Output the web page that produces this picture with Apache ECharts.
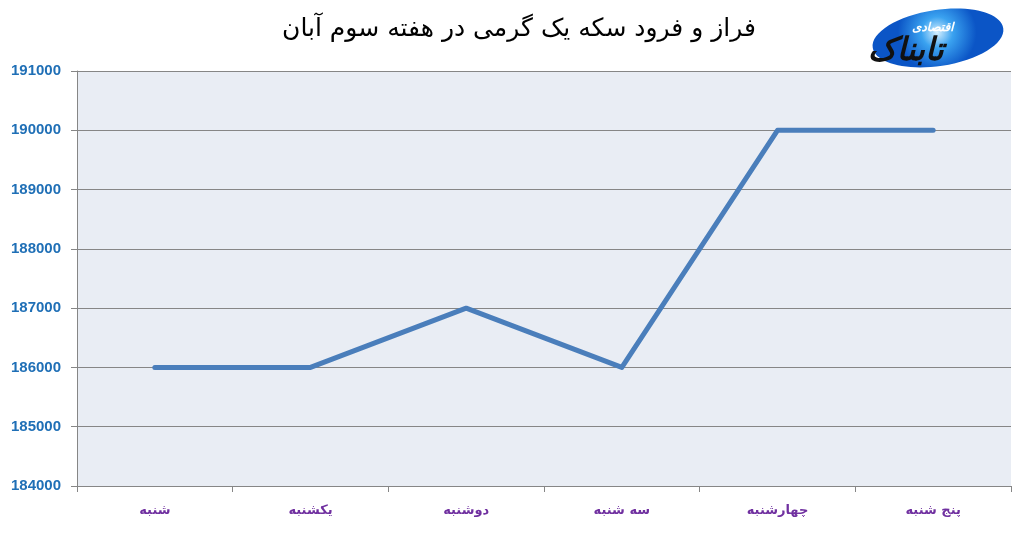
<!DOCTYPE html>
<html><head><meta charset="utf-8">
<script src="https://cdn.jsdelivr.net/npm/echarts@6/dist/echarts.min.js"></script>
<style>html,body{margin:0;padding:0;background:#fff}#c{width:1019px;height:533px}</style>
</head><body><div id="c"></div>
<script>
const titleText = 'فراز و فرود سکه یک گرمی در هفته سوم آبان';
const categories = ['شنبه', 'یکشنبه', 'دوشنبه', 'سه شنبه', 'چهارشنبه', 'پنج شنبه'];
const prices = [186000, 186000, 187000, 186000, 190000, 190000];
const yMin = 184000, yMax = 191000, yStep = 1000;

const chart = echarts.init(document.getElementById('c'));
chart.setOption({
  animation: false,
  backgroundColor: '#ffffff',
  title: {
    text: titleText, left: 514, top: 12, textAlign: 'center',
    textStyle: { fontFamily: 'DejaVu Sans', fontSize: 25, fontWeight: 'normal', color: '#000' }
  },
  grid: { left: 77, right: 8, top: 71, bottom: 47, show: true, backgroundColor: '#e9edf4', borderWidth: 0 },
  xAxis: {
    type: 'category', data: categories, boundaryGap: true,
    axisLine: { show: true, lineStyle: { color: '#868686', width: 1 } },
    axisTick: { show: true, length: 6, lineStyle: { color: '#868686' } },
    axisLabel: { margin: 18, color: '#7030a0', fontFamily: 'DejaVu Sans', fontSize: 13, fontWeight: 'bold' },
    splitLine: { show: false }
  },
  yAxis: {
    type: 'value', min: yMin, max: yMax, interval: yStep,
    axisLine: { show: true, lineStyle: { color: '#868686', width: 1 } },
    axisTick: { show: true, inside: false, length: 6, lineStyle: { color: '#868686' } },
    axisLabel: { margin: 16, color: '#1f6fb6', fontFamily: 'Liberation Sans', fontSize: 15, fontWeight: 'bold',
      formatter: v => String(v) },
    splitLine: { show: true, lineStyle: { color: '#868686', width: 1 } }
  },
  series: [{
    type: 'line', data: prices, symbol: 'none',
    lineStyle: { color: '#4a7ebb', width: 5, cap: 'round', join: 'round' }
  }],
  graphic: [
    { type: 'ellipse', shape: { cx: 938, cy: 38, rx: 66, ry: 28 }, rotation: 0.15, originX: 938, originY: 38,
      style: { fill: { type: 'radial', x: 0.5, y: 0.4, r: 0.7,
        colorStops: [{ offset: 0, color: '#d6f0ff' }, { offset: 0.4, color: '#3aa2f0' }, { offset: 1, color: '#0b55c6' }] } } },
    { type: 'text', left: 912, top: 22, style: { text: 'اقتصادی', fill: '#ffffff', font: 'italic bold 12px DejaVu Sans' } },
    { type: 'text', left: 868, top: 36, style: { text: 'تابناک', fill: '#111', font: 'italic bold 32px DejaVu Sans' } }
  ]
});
</script></body></html>
